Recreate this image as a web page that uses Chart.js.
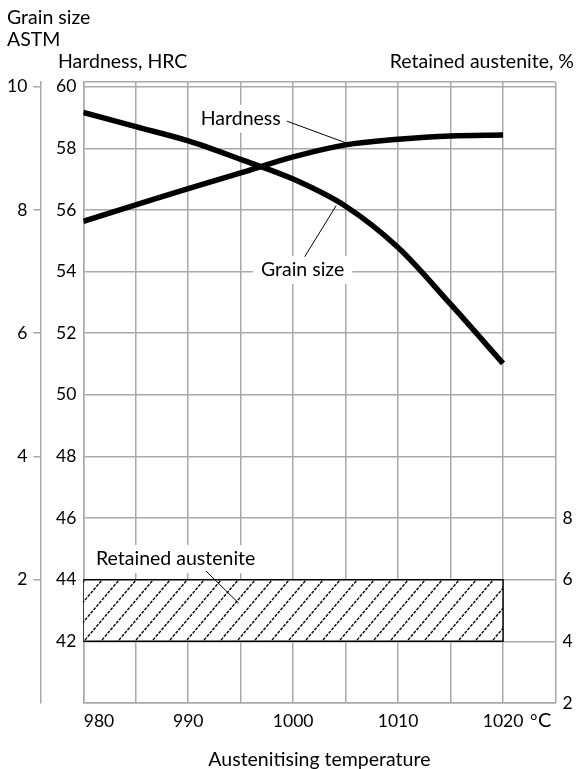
<!DOCTYPE html>
<html>
<head>
<meta charset="utf-8">
<script src="https://cdn.jsdelivr.net/npm/chart.js@4.4.1/dist/chart.umd.min.js"></script>
<style>
  html, body { margin: 0; padding: 0; background: #fff; }
  #wrap { width: 578px; height: 769px; }
</style>
</head>
<body>
<div id="wrap"><canvas id="chart" width="578" height="769"></canvas></div>
<script>
// austenitising temperature, °C
const temps = [980, 985, 990, 995, 1000, 1005, 1010, 1015, 1020];
// hardness, HRC
const hardness = [55.63, 56.16, 56.69, 57.20, 57.72, 58.11, 58.29, 58.40, 58.43];
// grain size, ASTM number
const grainSize = [9.58, 9.35, 9.12, 8.82, 8.50, 8.06, 7.39, 6.47, 5.51];
// retained austenite band, %
const austeniteTemps = [980, 1020];
const austeniteLow = 4;
const austeniteHigh = 6;

// tick labels
const xTicks = [980, 990, 1000, 1010, 1020];
const hrcTicks = [42, 44, 46, 48, 50, 52, 54, 56, 58, 60];
const grainTicks = [2, 4, 6, 8, 10];
const austeniteTicks = [2, 4, 6, 8];

const FONT = "Lato, 'Open Sans', sans-serif";
const GRID = '#a9a9a9';

function hatchPattern() {
    const w = 17, h = 20;
    const c = document.createElement('canvas');
    c.width = w; c.height = h;
    const g = c.getContext('2d');
    g.fillStyle = '#fff';
    g.fillRect(0, 0, w, h);
    g.strokeStyle = '#000';
    g.lineWidth = 1.4;
    const len = Math.sqrt(w * w + h * h);
    const period = len / 6;
    g.setLineDash([period * 0.72, period * 0.28]);
    for (let k = -1; k <= 1; k++) {
        g.beginPath();
        g.moveTo(k * w - w, 2 * h);
        g.lineTo(k * w + 2 * w, -h);
        g.stroke();
    }
    return g.createPattern(c, 'repeat');
}

const band = [
    {x: austeniteTemps[0], y: austeniteLow},
    {x: austeniteTemps[0], y: austeniteHigh},
    {x: austeniteTemps[1], y: austeniteHigh},
    {x: austeniteTemps[1], y: austeniteLow},
    {x: austeniteTemps[0], y: austeniteLow}
];

// labels inside the plot, placed in data units (x in °C, y in HRC)
const callouts = [
    {text: 'Hardness', x: 995.0, y: 58.96, from: [999.4, 58.88], to: [1005.3, 58.14]},
    {text: 'Grain size', x: 1000.9, y: 54.05, from: [1001.1, 54.48], to: [1004.1, 56.14]},
    {text: 'Retained austenite', x: 988.8, y: 44.67, from: [991.7, 44.28], to: [994.8, 43.24]}
];

const textPlugin = {
    id: 'texts',
    beforeDatasetsDraw(chart) {
        const ctx = chart.ctx;
        const xs = chart.scales.x, ys = chart.scales.yHRC;
        ctx.save();
        ctx.font = '19.5px ' + FONT;
        callouts.forEach(c => {
            const tw = ctx.measureText(c.text).width;
            const cx = xs.getPixelForValue(c.x), cy = ys.getPixelForValue(c.y);
            ctx.fillStyle = '#fff';
            ctx.fillRect(cx - tw / 2 - 8, cy - 14, tw + 16, 28);
        });
        ctx.restore();
    },
    afterDatasetsDraw(chart) {
        const ctx = chart.ctx;
        const xs = chart.scales.x, ys = chart.scales.yHRC;
        ctx.save();
        ctx.font = '19.5px ' + FONT;
        ctx.fillStyle = '#000';
        ctx.textAlign = 'center';
        ctx.textBaseline = 'middle';
        ctx.strokeStyle = '#000';
        ctx.lineWidth = 1;
        callouts.forEach(c => {
            ctx.fillText(c.text, xs.getPixelForValue(c.x), ys.getPixelForValue(c.y));
            ctx.beginPath();
            ctx.moveTo(xs.getPixelForValue(c.from[0]), ys.getPixelForValue(c.from[1]));
            ctx.lineTo(xs.getPixelForValue(c.to[0]), ys.getPixelForValue(c.to[1]));
            ctx.stroke();
        });

        // axis titles outside the plot
        ctx.textAlign = 'left';
        ctx.textBaseline = 'alphabetic';
        ctx.fillText('Grain size', 7, 24);
        ctx.fillText('ASTM', 7, 46);
        ctx.fillText('Hardness, HRC', 58, 68);
        ctx.textAlign = 'right';
        ctx.fillText('Retained austenite, %', 574, 68);
        ctx.textAlign = 'center';
        const area = chart.chartArea;
        ctx.fillText('Austenitising temperature', (area.left + area.right) / 2, 766);
        ctx.font = '18px ' + FONT;
        ctx.textAlign = 'left';
        ctx.fillText('°', 530, 727);
        ctx.font = '20px ' + FONT;
        ctx.fillText('C', 538, 727);
        ctx.restore();
    }
};

const ctx = document.getElementById('chart').getContext('2d');
new Chart(ctx, {
    type: 'line',
    data: {
        datasets: [{
            label: 'Hardness',
            data: temps.map((t, i) => ({x: t, y: hardness[i]})),
            yAxisID: 'yHRC',
            borderColor: '#000',
            borderWidth: 5.5,
            borderCapStyle: 'butt',
            pointRadius: 0,
            cubicInterpolationMode: 'monotone',
            fill: false
        }, {
            label: 'Grain size',
            data: temps.map((t, i) => ({x: t, y: grainSize[i]})),
            yAxisID: 'yGrain',
            borderColor: '#000',
            borderWidth: 5.5,
            borderCapStyle: 'butt',
            pointRadius: 0,
            cubicInterpolationMode: 'monotone',
            fill: false
        }, {
            label: 'Retained austenite',
            data: band,
            yAxisID: 'yRA',
            borderColor: '#000',
            borderWidth: 1.5,
            pointRadius: 0,
            tension: 0,
            backgroundColor: hatchPattern(),
            fill: 'shape'
        }]
    },
    options: {
        responsive: false,
        animation: false,
        devicePixelRatio: 1,
        layout: { padding: { top: 82, left: 0, right: 0, bottom: 0 } },
        plugins: { legend: { display: false }, tooltip: { enabled: false } },
        scales: {
            x: {
                type: 'linear',
                position: 'bottom',
                min: 980,
                max: 1025,
                afterBuildTicks: s => {
                    const t = [];
                    for (let v = 980; v <= 1025; v += 5) t.push({value: v});
                    s.ticks = t;
                },
                afterFit: s => { s.height = 66; },
                grid: { color: GRID, lineWidth: 1.5, drawTicks: false },
                border: { display: true, color: GRID, width: 1.5 },
                ticks: {
                    color: '#000',
                    font: { family: FONT, size: 17.5 },
                    padding: 8,
                    maxRotation: 0,
                    autoSkip: false,
                    callback: v => {
                        if (!xTicks.includes(v)) return '';
                        return v === 980 ? '       980' : String(v);
                    }
                }
            },
            yHRC: {
                type: 'linear',
                position: 'left',
                weight: 0,
                min: 40,
                max: 60.15,
                afterBuildTicks: s => {
                    const t = [{value: 40}];
                    hrcTicks.forEach(v => t.push({value: v}));
                    t.push({value: 60.15});
                    s.ticks = t;
                },
                afterFit: s => { s.width = 43; },
                grid: { color: GRID, lineWidth: 1.5, drawTicks: false },
                border: { display: true, color: GRID, width: 1.5 },
                ticks: {
                    color: '#000',
                    font: { family: FONT, size: 17.5 },
                    padding: 7,
                    callback: v => hrcTicks.includes(v) ? String(v) : ''
                }
            },
            yGrain: {
                type: 'linear',
                position: 'left',
                weight: 1,
                min: 0,
                max: 10.075,
                afterBuildTicks: s => { s.ticks = grainTicks.map(v => ({value: v})); },
                afterFit: s => { s.width = 40.3; },
                grid: { drawOnChartArea: false, drawTicks: true, tickLength: 7, color: GRID, lineWidth: 1.5 },
                border: { display: true, color: GRID, width: 1.5 },
                ticks: {
                    color: '#000',
                    font: { family: FONT, size: 17.5 },
                    padding: 6
                }
            },
            yRA: {
                type: 'linear',
                position: 'right',
                min: 2,
                max: 22.15,
                afterBuildTicks: s => { s.ticks = austeniteTicks.map(v => ({value: v})); },
                afterFit: s => { s.width = 22.5; },
                grid: { display: false, drawTicks: false },
                border: { display: false },
                ticks: {
                    color: '#000',
                    font: { family: FONT, size: 17.5 },
                    padding: 7
                }
            }
        }
    },
    plugins: [textPlugin]
});
</script>
</body>
</html>
